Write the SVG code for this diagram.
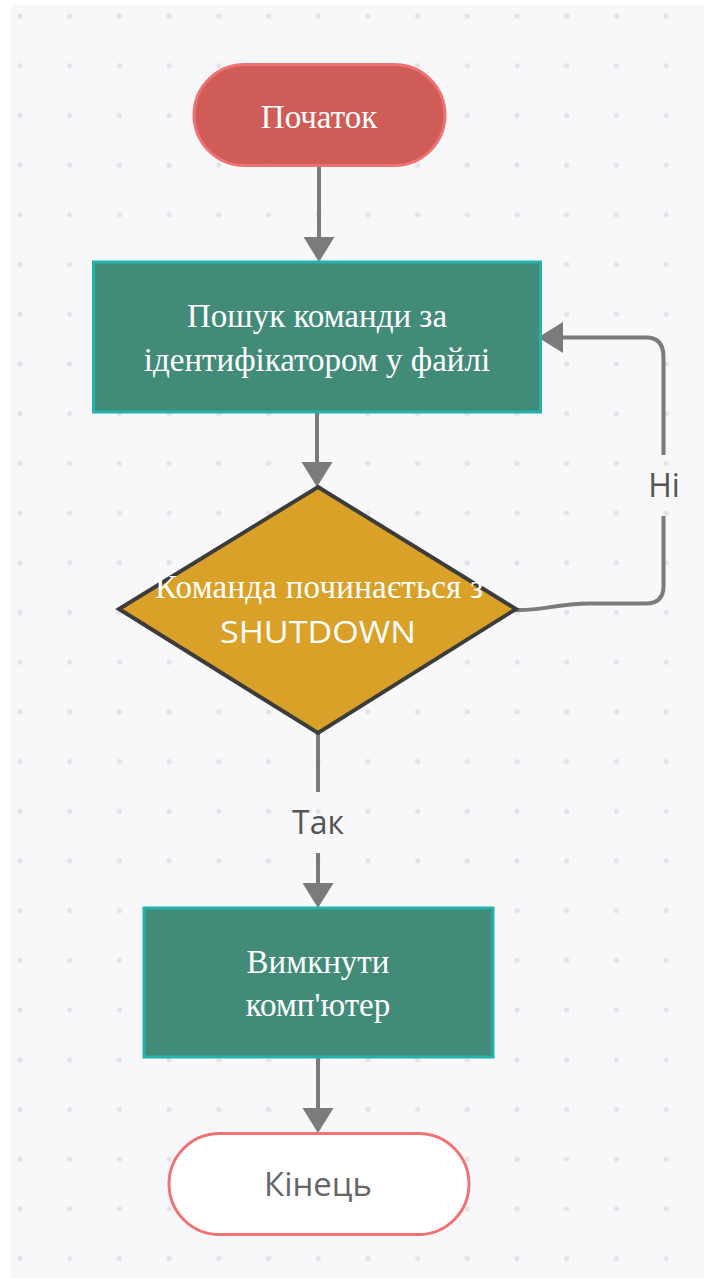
<svg xmlns="http://www.w3.org/2000/svg" width="704" height="1278" viewBox="0 0 704 1278">
  <style>
    .serif { font-family: "Liberation Serif", "Times New Roman", serif; fill: #ffffff; text-anchor: middle; font-size: 33px; }
    .sans { font-family: "Open Sans", "Noto Sans", "DejaVu Sans", sans-serif; text-anchor: middle; }
    .conn { fill: none; stroke: #7b7b7b; stroke-width: 4; }
    .proc { fill: #438b79; stroke: #23b2ad; stroke-width: 3; }
    .label { fill: #555555; font-size: 32px; }
  </style>
  <defs>
    <pattern id="dots" patternUnits="userSpaceOnUse" x="-4.85" y="-8.85" width="49.7" height="49.7">
      <circle cx="24.85" cy="24.85" r="2.6" fill="#e2e2e7"/>
    </pattern>
    <marker id="arrow" markerUnits="userSpaceOnUse" markerWidth="26" markerHeight="32" refX="0" refY="15.5" orient="auto" viewBox="0 0 26 32">
      <path d="M0,0 L25,15.5 L0,31 Z" fill="#7b7b7b"/>
    </marker>
  </defs>

  <rect x="0" y="0" width="704" height="1278" fill="#ffffff"/>
  <rect x="10" y="5" width="694" height="1273" fill="#f8f8fb"/>
  <rect x="10" y="5" width="694" height="1273" fill="url(#dots)"/>

  <g id="connectors">
    <path class="conn" d="M319,166 V237" marker-end="url(#arrow)"/>
    <path class="conn" d="M317,413 V462" marker-end="url(#arrow)"/>
    <path class="conn" d="M318,733 V792"/>
    <path class="conn" d="M318,853 V883" marker-end="url(#arrow)"/>
    <path class="conn" d="M318,1058 V1108" marker-end="url(#arrow)"/>
    <path class="conn" d="M516,610 C540,611 555,604 590,603.5 L646,603.5 Q663.5,603.5 663.5,586 V516"/>
    <path class="conn" d="M663.5,455 V357 Q663.5,337.5 646,337.5 L563,337.5" marker-end="url(#arrow)"/>
    <text class="sans label" x="664" y="497">Ні</text>
    <text class="sans label" x="318" y="834">Так</text>
  </g>

  <g id="start">
    <rect x="194" y="64.5" width="251" height="101" rx="50.5" ry="50.5" fill="#d05c57" stroke="#f07373" stroke-width="3"/>
    <text class="serif" x="319" y="128">Початок</text>
  </g>

  <g id="search">
    <rect class="proc" x="93.5" y="262" width="447" height="150"/>
    <text class="serif" x="317" y="327">Пошук команди за</text>
    <text class="serif" x="317" y="371">ідентифікатором у файлі</text>
  </g>

  <g id="decision">
    <polygon points="318,487 516,609 318,733 119,609" fill="#d9a128" stroke="#3c3c3c" stroke-width="4" stroke-linejoin="miter"/>
    <text class="serif" x="319" y="598" textLength="328" lengthAdjust="spacing">Команда починається з</text>
    <text class="sans" x="318" y="643" font-size="31" fill="#ffffff" textLength="196" lengthAdjust="spacingAndGlyphs">SHUTDOWN</text>
  </g>

  <g id="shutdown">
    <rect class="proc" x="144" y="908" width="349" height="149"/>
    <text class="serif" x="318" y="973">Вимкнути</text>
    <text class="serif" x="318" y="1016">комп'ютер</text>
  </g>

  <g id="end">
    <rect x="169" y="1133.5" width="300" height="101" rx="50.5" ry="50.5" fill="#ffffff" stroke="#f07373" stroke-width="3"/>
    <text class="sans" x="318" y="1196" font-size="33" fill="#666666">Кінець</text>
  </g>
</svg>
